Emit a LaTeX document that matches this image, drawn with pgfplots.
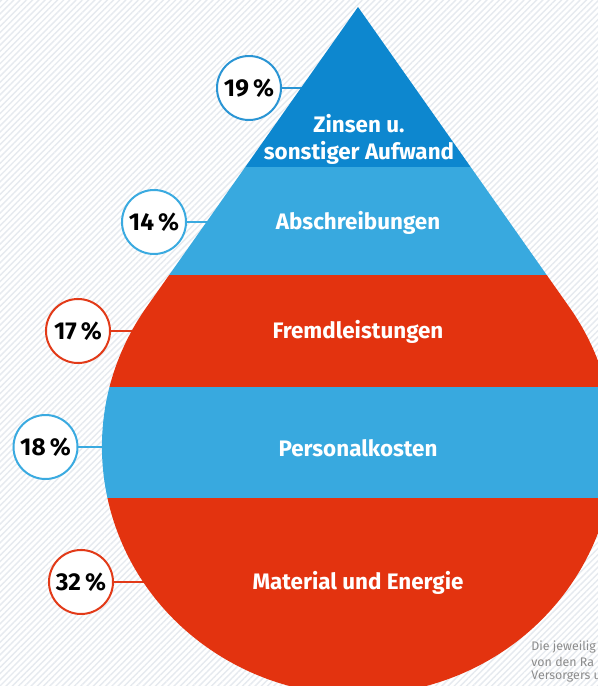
\documentclass[border=0pt]{standalone}
\usepackage{pgfplots}
\pgfplotsset{compat=1.18}
\usetikzlibrary{patterns.meta}
\usepackage{fontspec}
\setmainfont{Fira Sans}
\definecolor{dblue}{HTML}{0D87CF}
\definecolor{lblue}{HTML}{38A9DF}
\definecolor{dred}{HTML}{E3330F}
\definecolor{ringdb}{HTML}{2A95D4}
\definecolor{ringlb}{HTML}{3AAAE0}
\definecolor{ringr}{HTML}{E23A18}
\definecolor{stripe}{HTML}{E6EAEF}
\definecolor{note}{HTML}{8C8C8C}
\pgfplotsset{dropaxis/.style={hide axis, scale only axis, width=299pt, height=343pt,
  xmin=0, xmax=598, ymin=0, ymax=686, y dir=reverse, clip=false}}
\pgfplotsset{bubble/.style={only marks, mark=*, mark size=16pt,
  mark options={fill=white, draw=#1, line width=1pt},
  point meta=explicit symbolic, nodes near coords,
  every node near coord/.append style={anchor=center, text=black,
    font=\bfseries\fontsize{12.2}{14}\selectfont}}}
\newcommand{\lab}{\bfseries\fontsize{11.2}{13.5}\selectfont}
\begin{document}
\begin{tikzpicture}
\useasboundingbox (0,0) rectangle (299pt,343pt);
\clip (0,0) rectangle (299pt,343pt);
\fill[white] (0,0) rectangle (299pt,343pt);
\fill[pattern={Lines[angle=45,distance=2.2pt,line width=0.7pt]}, pattern color=stripe] (0,0) rectangle (299pt,343pt);
\begin{axis}[dropaxis]
% connectors (ends hidden under the drop)
\addplot[ringdb, line width=1pt] coordinates {(249,88) (358,88)};
\addplot[ringlb, line width=1pt] coordinates {(154,222) (358,222)};
\addplot[ringr, line width=1pt] coordinates {(78,331) (358,331)};
\addplot[ringlb, line width=1pt] coordinates {(45.5,447) (358,447)};
\addplot[ringr, line width=1pt] coordinates {(81,582) (358,582)};
% bubbles with shares
\addplot[bubble=ringdb] coordinates {(249,88) [19\,\%]};
\addplot[bubble=ringlb] coordinates {(154,222) [14\,\%]};
\addplot[bubble=ringr] coordinates {(78,331) [17\,\%]};
\addplot[bubble=ringlb] coordinates {(45.5,447) [18\,\%]};
\addplot[bubble=ringr] coordinates {(81,582) [32\,\%]};
% note (cut at the right edge as in the source)
\node[anchor=west, text=note, font=\fontsize{6.2}{7.5}\selectfont, inner sep=0pt] at (axis cs:531,647) {Die jeweilig};
\node[anchor=west, text=note, font=\fontsize{6.2}{7.5}\selectfont, inner sep=0pt] at (axis cs:531,662) {von den Ra};
\node[anchor=west, text=note, font=\fontsize{6.2}{7.5}\selectfont, inner sep=0pt] at (axis cs:531,677) {Versorgers u};
\end{axis}
\begin{scope}
\clip (179pt,339.5pt) -- (73.25pt,189.4pt) arc[start angle=145.69, end angle=394.31, x radius=128pt, y radius=124pt] -- cycle;
\begin{axis}[dropaxis]
\addplot[fill=dblue, draw=none] coordinates {(0,0) (598,0) (598,167) (0,167)} -- cycle;
\addplot[fill=lblue, draw=none] coordinates {(0,167) (598,167) (598,275) (0,275)} -- cycle;
\addplot[fill=dred, draw=none] coordinates {(0,275) (598,275) (598,387) (0,387)} -- cycle;
\addplot[fill=lblue, draw=none] coordinates {(0,387) (598,387) (598,498) (0,498)} -- cycle;
\addplot[fill=dred, draw=none] coordinates {(0,498) (598,498) (598,686) (0,686)} -- cycle;
\node[text=white, font=\lab, align=center] at (axis cs:359,139) {Zinsen u.\\sonstiger Aufwand};
\node[text=white, font=\lab] at (axis cs:358,223) {Abschreibungen};
\node[text=white, font=\lab] at (axis cs:358,332) {Fremdleistungen};
\node[text=white, font=\lab] at (axis cs:358,448) {Personalkosten};
\node[text=white, font=\lab] at (axis cs:358,583) {Material und Energie};
\end{axis}
\end{scope}
\end{tikzpicture}
\end{document}
